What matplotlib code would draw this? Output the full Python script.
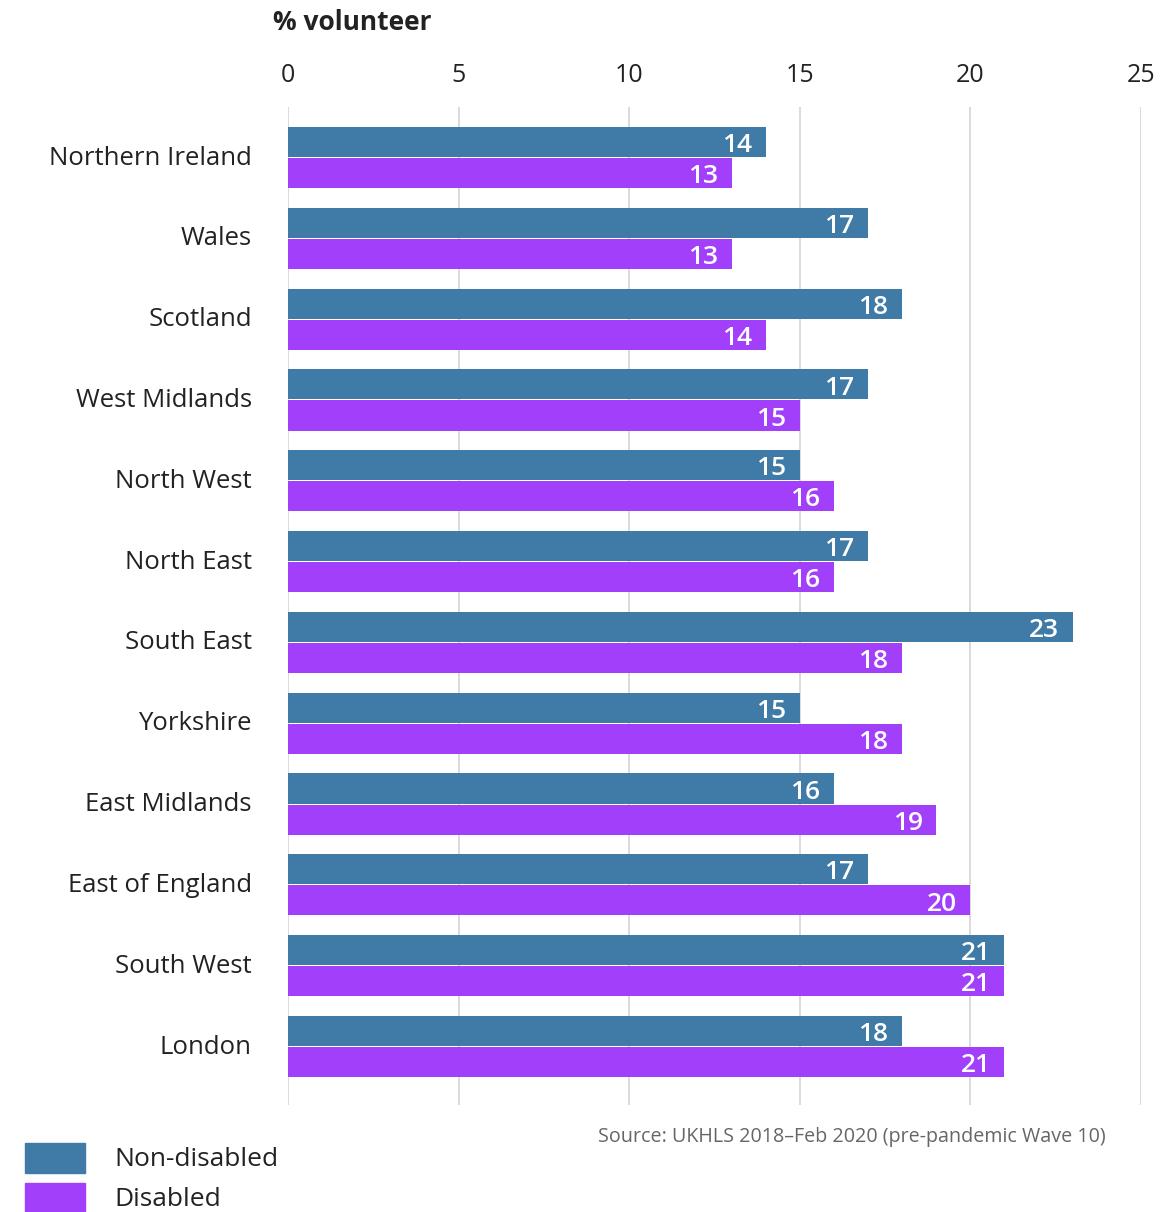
import matplotlib.pyplot as plt
from matplotlib.patches import Rectangle

plt.rcParams['font.family'] = ['Open Sans', 'DejaVu Sans']

regions = ["Northern Ireland", "Wales", "Scotland", "West Midlands", "North West",
           "North East", "South East", "Yorkshire", "East Midlands", "East of England",
           "South West", "London"]
non_disabled = [14, 17, 18, 17, 15, 17, 23, 15, 16, 17, 21, 18]
disabled = [13, 13, 14, 15, 16, 16, 18, 18, 19, 20, 21, 21]
ticks = [0, 5, 10, 15, 20, 25]

blue = "#3f7ba6"
purple = "#a23ffa"
text_col = "#222222"

W, H = 1176, 1212
fig = plt.figure(figsize=(W / 100, H / 100), dpi=100)
ax = fig.add_axes([0.2449, 0.0883, 0.7253, 0.8234])

h = 0.373
gap = 0.006
ys = list(range(len(regions)))
y_top = [y - h / 2 - gap for y in ys]
y_bot = [y + h / 2 + gap for y in ys]

ax.barh(y_top, non_disabled, height=h, color=blue, zorder=3)
ax.barh(y_bot, disabled, height=h, color=purple, zorder=3)

for y, v in zip(y_top, non_disabled):
    ax.text(v - 0.4, y + 0.045, str(v), color="white", fontsize=19, fontweight="semibold",
            ha="right", va="center", zorder=4)
for y, v in zip(y_bot, disabled):
    ax.text(v - 0.4, y + 0.045, str(v), color="white", fontsize=19, fontweight="semibold",
            ha="right", va="center", zorder=4)

ax.set_xlim(0, 25)
ax.set_ylim(11.724, -0.625)
ax.set_xticks(ticks)
ax.set_yticks([y - 0.03 for y in ys])
ax.set_yticklabels(regions)
ax.xaxis.tick_top()
ax.tick_params(axis="x", length=0, pad=14, labelsize=18, labelcolor=text_col)
ax.tick_params(axis="y", length=0, pad=26, labelsize=18.5, labelcolor=text_col)
ax.grid(axis="x", color="#d4d4d4", linewidth=1.2, zorder=0)
for s in ax.spines.values():
    s.set_visible(False)

fig.text(273 / W, 1 - 22 / H, "% volunteer", fontsize=19, fontweight="bold",
         color=text_col, ha="left", va="center")
fig.text(1106 / W, 1 - 1137 / H, "Source: UKHLS 2018\u2013Feb 2020 (pre-pandemic Wave 10)",
         fontsize=14.2, color="#666666", ha="right", va="center")

# legend drawn by hand
for (top, col, lab) in [(1143, blue, "Non-disabled"), (1183, purple, "Disabled")]:
    fig.patches.append(Rectangle((25 / W, 1 - (top + 30) / H), 60 / W, 30 / H,
                                 transform=fig.transFigure, color=col))
    fig.text(114 / W, 1 - (top + 16) / H, lab, fontsize=19, color=text_col,
             ha="left", va="center")

fig.savefig("out.png", dpi=100)
